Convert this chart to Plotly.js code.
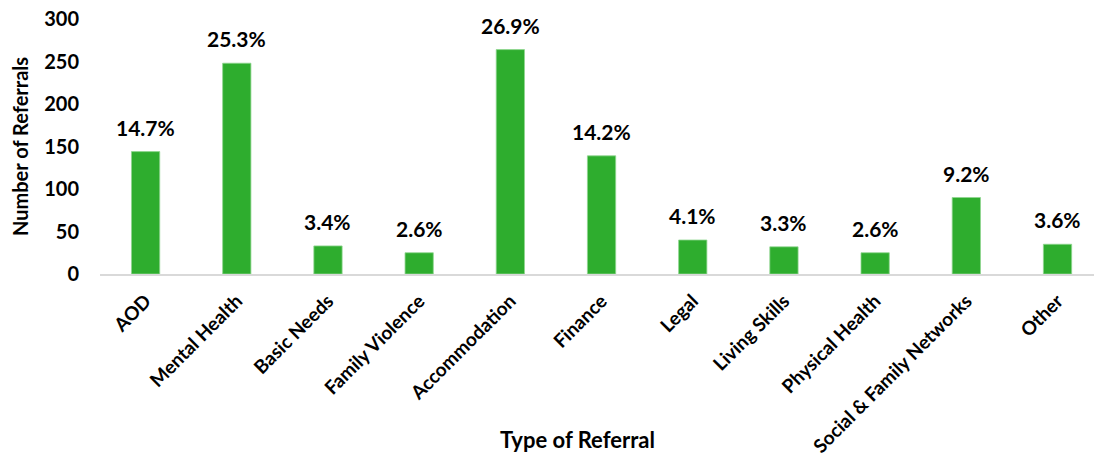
<!DOCTYPE html>
<html>
<head>
<meta charset="utf-8">
<script src="https://cdn.plot.ly/plotly-3.0.1.min.js"></script>
<style>html,body{margin:0;padding:0;background:#fff;}#chart{width:1094px;height:461px;}</style>
</head>
<body>
<div id="chart"></div>
<script>
const categories = ["AOD","Mental Health","Basic Needs","Family Violence","Accommodation","Finance","Legal","Living Skills","Physical Health","Social & Family Networks","Other"];
const referrals = [144, 248, 33, 25, 264, 139, 40, 32, 25, 90, 35];
const percentLabels = ["14.7%","25.3%","3.4%","2.6%","26.9%","14.2%","4.1%","3.3%","2.6%","9.2%","3.6%"];
const yTicks = [0, 50, 100, 150, 200, 250, 300];

const FONT = "Lato, 'Open Sans', sans-serif";

const trace = {
  type: "bar",
  x: categories,
  y: referrals,
  marker: {color: "#2EAD2E", line: {color: "#8FD68F", width: 0.8}},
  width: 0.31,
  hoverinfo: "x+y"
};

const annotations = categories.map((c, i) => ({
  x: c, y: referrals[i], xref: "x", yref: "y",
  text: percentLabels[i], showarrow: false,
  yanchor: "bottom", yshift: 10,
  font: {family: FONT, size: 21, color: "#000", weight: "bold"}
}));
annotations.push({
  x: 0.48, y: -0.65, xref: "paper", yref: "paper",
  text: "Type of Referral", showarrow: false,
  xanchor: "center", yanchor: "middle",
  font: {family: FONT, size: 22, color: "#000", weight: "bold"}
});

const layout = {
  width: 1094, height: 461,
  margin: {l: 100, r: 0, t: 19, b: 187},
  paper_bgcolor: "#fff", plot_bgcolor: "#fff",
  showlegend: false,
  font: {family: FONT, color: "#000"},
  xaxis: {
    type: "category",
    range: [-0.5, 10.4],
    tickangle: -45,
    tickfont: {family: FONT, size: 19, color: "#000", weight: "bold"},
    showline: true, linecolor: "#d9d9d9", linewidth: 1.5,
    ticks: "", showgrid: false, zeroline: false,
    ticklabelstandoff: 7,
    automargin: false
  },
  yaxis: {
    range: [0, 300],
    tickvals: yTicks,
    ticktext: yTicks.map(String),
    tickfont: {family: FONT, size: 20, color: "#000", weight: "bold"},
    showgrid: false, zeroline: false, showline: false,
    ticks: "", ticklabelstandoff: 20,
    title: {text: "Number of Referrals", font: {family: FONT, size: 20, color: "#000", weight: "bold"}, standoff: 10}
  },
  annotations: annotations
};

Plotly.newPlot("chart", [trace], layout, {displayModeBar: false, staticPlot: true});
</script>
</body>
</html>
